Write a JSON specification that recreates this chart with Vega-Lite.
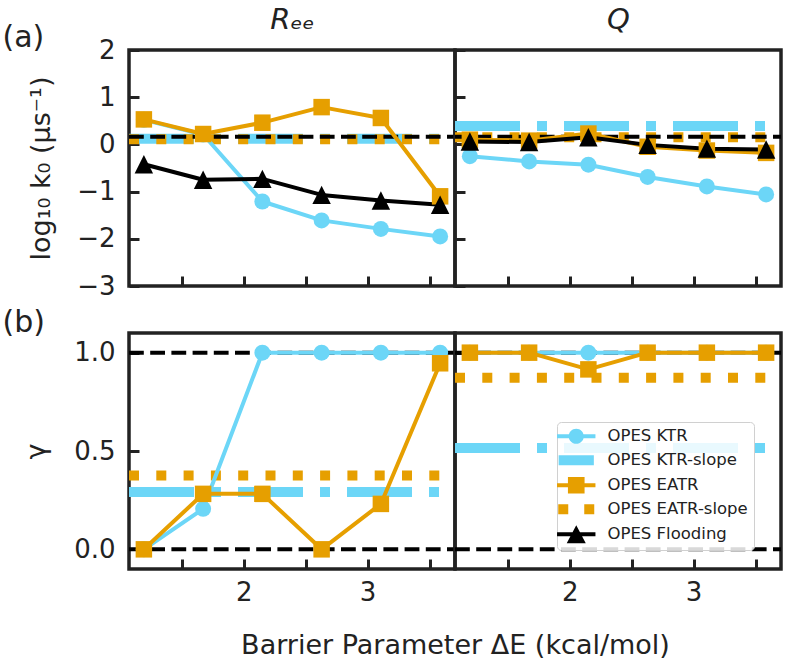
{
  "$schema": "https://vega.github.io/schema/vega-lite/v6.json",
  "padding": {"left": 0, "top": 3, "right": 5, "bottom": 0},
  "config": {
    "font": "DejaVu Sans",
    "background": "white",
    "view": {"stroke": "#222", "strokeWidth": 3.5},
    "axis": {"domain": false, "grid": false, "ticks": true, "tickSize": -10, "tickWidth": 3, "tickColor": "#222", "labelFont": "DejaVu Sans", "labelFontSize": 26, "labelColor": "#222", "titleFont": "DejaVu Sans", "titleFontSize": 27, "titleFontWeight": "normal", "titleColor": "#222"},
    "axisY": {"labelPadding": 24},
    "axisX": {"labelPadding": 20}
  },
  "data": {"values": [
    {"cv": "Ree", "metric": "k", "kind": "pt", "series": "OPES KTR", "dE": 1.195, "value": 0.52},
    {"cv": "Ree", "metric": "k", "kind": "pt", "series": "OPES KTR", "dE": 1.673, "value": 0.21},
    {"cv": "Ree", "metric": "k", "kind": "pt", "series": "OPES KTR", "dE": 2.151, "value": -1.21},
    {"cv": "Ree", "metric": "k", "kind": "pt", "series": "OPES KTR", "dE": 2.629, "value": -1.61},
    {"cv": "Ree", "metric": "k", "kind": "pt", "series": "OPES KTR", "dE": 3.107, "value": -1.79},
    {"cv": "Ree", "metric": "k", "kind": "pt", "series": "OPES KTR", "dE": 3.585, "value": -1.95},
    {"cv": "Ree", "metric": "k", "kind": "pt", "series": "OPES EATR", "dE": 1.195, "value": 0.53},
    {"cv": "Ree", "metric": "k", "kind": "pt", "series": "OPES EATR", "dE": 1.673, "value": 0.22},
    {"cv": "Ree", "metric": "k", "kind": "pt", "series": "OPES EATR", "dE": 2.151, "value": 0.46},
    {"cv": "Ree", "metric": "k", "kind": "pt", "series": "OPES EATR", "dE": 2.629, "value": 0.79},
    {"cv": "Ree", "metric": "k", "kind": "pt", "series": "OPES EATR", "dE": 3.107, "value": 0.56},
    {"cv": "Ree", "metric": "k", "kind": "pt", "series": "OPES EATR", "dE": 3.585, "value": -1.10},
    {"cv": "Ree", "metric": "k", "kind": "pt", "series": "OPES Flooding", "dE": 1.195, "value": -0.42},
    {"cv": "Ree", "metric": "k", "kind": "pt", "series": "OPES Flooding", "dE": 1.673, "value": -0.75},
    {"cv": "Ree", "metric": "k", "kind": "pt", "series": "OPES Flooding", "dE": 2.151, "value": -0.73},
    {"cv": "Ree", "metric": "k", "kind": "pt", "series": "OPES Flooding", "dE": 2.629, "value": -1.07},
    {"cv": "Ree", "metric": "k", "kind": "pt", "series": "OPES Flooding", "dE": 3.107, "value": -1.19},
    {"cv": "Ree", "metric": "k", "kind": "pt", "series": "OPES Flooding", "dE": 3.585, "value": -1.28},
    {"cv": "Ree", "metric": "k", "kind": "slope", "series": "OPES KTR-slope", "value": 0.12},
    {"cv": "Ree", "metric": "k", "kind": "slope", "series": "OPES EATR-slope", "value": 0.11},
    {"cv": "Ree", "metric": "k", "kind": "ref", "value": 0.16},

    {"cv": "Q", "metric": "k", "kind": "pt", "series": "OPES KTR", "dE": 1.195, "value": -0.25},
    {"cv": "Q", "metric": "k", "kind": "pt", "series": "OPES KTR", "dE": 1.673, "value": -0.36},
    {"cv": "Q", "metric": "k", "kind": "pt", "series": "OPES KTR", "dE": 2.151, "value": -0.43},
    {"cv": "Q", "metric": "k", "kind": "pt", "series": "OPES KTR", "dE": 2.629, "value": -0.69},
    {"cv": "Q", "metric": "k", "kind": "pt", "series": "OPES KTR", "dE": 3.107, "value": -0.89},
    {"cv": "Q", "metric": "k", "kind": "pt", "series": "OPES KTR", "dE": 3.585, "value": -1.06},
    {"cv": "Q", "metric": "k", "kind": "pt", "series": "OPES EATR", "dE": 1.195, "value": 0.10},
    {"cv": "Q", "metric": "k", "kind": "pt", "series": "OPES EATR", "dE": 1.673, "value": 0.08},
    {"cv": "Q", "metric": "k", "kind": "pt", "series": "OPES EATR", "dE": 2.151, "value": 0.23},
    {"cv": "Q", "metric": "k", "kind": "pt", "series": "OPES EATR", "dE": 2.629, "value": -0.05},
    {"cv": "Q", "metric": "k", "kind": "pt", "series": "OPES EATR", "dE": 3.107, "value": -0.13},
    {"cv": "Q", "metric": "k", "kind": "pt", "series": "OPES EATR", "dE": 3.585, "value": -0.18},
    {"cv": "Q", "metric": "k", "kind": "pt", "series": "OPES Flooding", "dE": 1.195, "value": 0.06},
    {"cv": "Q", "metric": "k", "kind": "pt", "series": "OPES Flooding", "dE": 1.673, "value": 0.05},
    {"cv": "Q", "metric": "k", "kind": "pt", "series": "OPES Flooding", "dE": 2.151, "value": 0.15},
    {"cv": "Q", "metric": "k", "kind": "pt", "series": "OPES Flooding", "dE": 2.629, "value": -0.01},
    {"cv": "Q", "metric": "k", "kind": "pt", "series": "OPES Flooding", "dE": 3.107, "value": -0.09},
    {"cv": "Q", "metric": "k", "kind": "pt", "series": "OPES Flooding", "dE": 3.585, "value": -0.11},
    {"cv": "Q", "metric": "k", "kind": "slope", "series": "OPES KTR-slope", "value": 0.39},
    {"cv": "Q", "metric": "k", "kind": "slope", "series": "OPES EATR-slope", "value": 0.15},
    {"cv": "Q", "metric": "k", "kind": "ref", "value": 0.16},

    {"cv": "Ree", "metric": "g", "kind": "pt", "series": "OPES KTR", "dE": 1.195, "value": 0},
    {"cv": "Ree", "metric": "g", "kind": "pt", "series": "OPES KTR", "dE": 1.673, "value": 0.206},
    {"cv": "Ree", "metric": "g", "kind": "pt", "series": "OPES KTR", "dE": 2.151, "value": 1},
    {"cv": "Ree", "metric": "g", "kind": "pt", "series": "OPES KTR", "dE": 2.629, "value": 1},
    {"cv": "Ree", "metric": "g", "kind": "pt", "series": "OPES KTR", "dE": 3.107, "value": 1},
    {"cv": "Ree", "metric": "g", "kind": "pt", "series": "OPES KTR", "dE": 3.585, "value": 1},
    {"cv": "Ree", "metric": "g", "kind": "pt", "series": "OPES EATR", "dE": 1.195, "value": 0},
    {"cv": "Ree", "metric": "g", "kind": "pt", "series": "OPES EATR", "dE": 1.673, "value": 0.282},
    {"cv": "Ree", "metric": "g", "kind": "pt", "series": "OPES EATR", "dE": 2.151, "value": 0.282},
    {"cv": "Ree", "metric": "g", "kind": "pt", "series": "OPES EATR", "dE": 2.629, "value": 0},
    {"cv": "Ree", "metric": "g", "kind": "pt", "series": "OPES EATR", "dE": 3.107, "value": 0.231},
    {"cv": "Ree", "metric": "g", "kind": "pt", "series": "OPES EATR", "dE": 3.585, "value": 0.946},
    {"cv": "Ree", "metric": "g", "kind": "slope", "series": "OPES KTR-slope", "value": 0.291},
    {"cv": "Ree", "metric": "g", "kind": "slope", "series": "OPES EATR-slope", "value": 0.376},
    {"cv": "Ree", "metric": "g", "kind": "ref", "value": 0},
    {"cv": "Ree", "metric": "g", "kind": "ref", "value": 1},

    {"cv": "Q", "metric": "g", "kind": "pt", "series": "OPES KTR", "dE": 1.195, "value": 1},
    {"cv": "Q", "metric": "g", "kind": "pt", "series": "OPES KTR", "dE": 1.673, "value": 1},
    {"cv": "Q", "metric": "g", "kind": "pt", "series": "OPES KTR", "dE": 2.151, "value": 1},
    {"cv": "Q", "metric": "g", "kind": "pt", "series": "OPES KTR", "dE": 2.629, "value": 1},
    {"cv": "Q", "metric": "g", "kind": "pt", "series": "OPES KTR", "dE": 3.107, "value": 1},
    {"cv": "Q", "metric": "g", "kind": "pt", "series": "OPES KTR", "dE": 3.585, "value": 1},
    {"cv": "Q", "metric": "g", "kind": "pt", "series": "OPES EATR", "dE": 1.195, "value": 1},
    {"cv": "Q", "metric": "g", "kind": "pt", "series": "OPES EATR", "dE": 1.673, "value": 1},
    {"cv": "Q", "metric": "g", "kind": "pt", "series": "OPES EATR", "dE": 2.151, "value": 0.915},
    {"cv": "Q", "metric": "g", "kind": "pt", "series": "OPES EATR", "dE": 2.629, "value": 1},
    {"cv": "Q", "metric": "g", "kind": "pt", "series": "OPES EATR", "dE": 3.107, "value": 1},
    {"cv": "Q", "metric": "g", "kind": "pt", "series": "OPES EATR", "dE": 3.585, "value": 1},
    {"cv": "Q", "metric": "g", "kind": "slope", "series": "OPES KTR-slope", "value": 0.515},
    {"cv": "Q", "metric": "g", "kind": "slope", "series": "OPES EATR-slope", "value": 0.872},
    {"cv": "Q", "metric": "g", "kind": "ref", "value": 0},
    {"cv": "Q", "metric": "g", "kind": "ref", "value": 1}
  ]},
  "spacing": 4,
  "vconcat": [
    {
      "spacing": 0,
      "bounds": "flush",
      "hconcat": [
        {
          "width": 326, "height": 236,
          "transform": [{"filter": "datum.cv === 'Ree' && datum.metric === 'k'"}],
          "layer": [
            {"transform": [{"filter": "datum.series === 'OPES KTR-slope'"}],
             "mark": {"type": "rule", "strokeWidth": 10, "strokeDash": [65, 17, 10, 17], "strokeDashOffset": 66},
             "encoding": {
               "y": {"field": "value", "type": "quantitative", "scale": {"domain": [-3, 2], "nice": false, "zero": false},
                     "axis": {"values": [-3, -2, -1, 0, 1, 2], "title": "log₁₀ k₀ (μs⁻¹)", "titleX": -88, "titleBaseline": "middle", "titleAngle": -90}},
               "color": {"field": "series", "type": "nominal", "scale": {"domain": ["OPES KTR", "OPES KTR-slope", "OPES EATR", "OPES EATR-slope", "OPES Flooding"], "range": ["#6cd6f7", "#6cd6f7", "#e69f00", "#e69f00", "#000000"]},
                         "legend": {"title": null, "orient": "none", "legendX": 428, "legendY": 372, "padding": 6, "symbolSize": 256, "symbolOffset": 5, "labelOffset": 23, "rowPadding": 7.0, "labelFontSize": 16.5, "labelFont": "DejaVu Sans", "labelColor": "#222", "strokeColor": "#d0d0d0", "fillColor": "rgba(255,255,255,0.85)", "cornerRadius": 4,
                           "encode": {"symbols": {"update": {
                             "shape": {"signal": "datum.value === 'OPES KTR' ? 'M-2.4,-0.25H2.4V0.25H-2.4Z M0.95,0A0.95,0.95,0,1,1,-0.95,0A0.95,0.95,0,1,1,0.95,0Z' : datum.value === 'OPES KTR-slope' ? 'M-2.2,-0.62H2.2V0.62H-2.2Z' : datum.value === 'OPES EATR' ? 'M-2.4,-0.25H2.4V0.25H-2.4Z M-1.04,-1.04H1.04V1.04H-1.04Z' : datum.value === 'OPES EATR-slope' ? 'M-2.25,-0.62H-1.0V0.62H-2.25Z M1.0,-0.62H2.25V0.62H1.0Z' : 'M-2.4,-0.25H2.4V0.25H-2.4Z M0,-1.12L1.19,1.12L-1.19,1.12Z'"},
                             "fill": {"signal": "indexof(['OPES KTR','OPES KTR-slope'], datum.value) >= 0 ? '#6cd6f7' : indexof(['OPES EATR','OPES EATR-slope'], datum.value) >= 0 ? '#e69f00' : '#000000'"},
                             "stroke": {"value": "transparent"},
                             "strokeWidth": {"value": 0},
                             "opacity": {"value": 1},
                             "size": {"value": 256}
                           }}}}}
             }},
            {"transform": [{"filter": "datum.series === 'OPES EATR-slope'"}],
             "mark": {"type": "rule", "strokeWidth": 10, "strokeDash": [10, 17.3], "strokeDashOffset": 11.6},
             "encoding": {"y": {"field": "value", "type": "quantitative", "scale": {"domain": [-3, 2], "nice": false, "zero": false}},
                          "color": {"field": "series", "type": "nominal"}}},
            {"transform": [{"filter": "datum.kind === 'ref'"}],
             "mark": {"type": "rule", "strokeWidth": 4, "strokeDash": [14.8, 6.4], "strokeDashOffset": 6.8, "color": "#000000"},
             "encoding": {"y": {"field": "value", "type": "quantitative", "scale": {"domain": [-3, 2], "nice": false, "zero": false}}}},
            {"transform": [{"filter": "datum.kind === 'pt'"}],
             "mark": {"type": "line", "strokeWidth": 4, "strokeJoin": "round"},
             "encoding": {
               "x": {"field": "dE", "type": "quantitative", "scale": {"domain": [1.075, 3.705], "nice": false, "zero": false},
                     "axis": {"values": [1.5, 2, 2.5, 3, 3.5], "labels": false, "title": "(a)", "titleX": -127, "titleY": -240, "titleAlign": "left", "titleBaseline": "alphabetic", "titleAngle": 0, "titleFontSize": 30}},
               "y": {"field": "value", "type": "quantitative", "scale": {"domain": [-3, 2], "nice": false, "zero": false}},
               "color": {"field": "series", "type": "nominal"}}},
            {"transform": [{"filter": "datum.series === 'OPES KTR' && datum.kind === 'pt'"}],
             "mark": {"type": "point", "filled": true, "opacity": 1, "shape": "circle", "size": 256},
             "encoding": {"x": {"field": "dE", "type": "quantitative"}, "y": {"field": "value", "type": "quantitative"}, "color": {"field": "series", "type": "nominal"}}},
            {"transform": [{"filter": "datum.series === 'OPES EATR' && datum.kind === 'pt'"}],
             "mark": {"type": "point", "filled": true, "opacity": 1, "shape": "square", "size": 272},
             "encoding": {"x": {"field": "dE", "type": "quantitative"}, "y": {"field": "value", "type": "quantitative"}, "color": {"field": "series", "type": "nominal"}}},
            {"transform": [{"filter": "datum.series === 'OPES Flooding' && datum.kind === 'pt'"}],
             "mark": {"type": "point", "filled": true, "opacity": 1, "shape": "M0,-1L1,1L-1,1Z", "size": 340},
             "encoding": {"x": {"field": "dE", "type": "quantitative"}, "y": {"field": "value", "type": "quantitative"}, "color": {"field": "series", "type": "nominal"}}}
          ]
        },
        {
          "width": 326, "height": 236,
          "transform": [{"filter": "datum.cv === 'Q' && datum.metric === 'k'"}],
          "layer": [
            {"transform": [{"filter": "datum.series === 'OPES KTR-slope'"}],
             "mark": {"type": "rule", "strokeWidth": 10, "strokeDash": [65, 17, 10, 17], "strokeDashOffset": 66},
             "encoding": {
               "y": {"field": "value", "type": "quantitative", "scale": {"domain": [-3, 2], "nice": false, "zero": false},
                     "axis": {"values": [-3, -2, -1, 0, 1, 2], "labels": false, "title": "Rₑₑ", "titleX": -163, "titleY": -22, "titleAlign": "center", "titleBaseline": "alphabetic", "titleAngle": 0, "titleFontSize": 29, "titleFontStyle": "italic"}},
               "color": {"field": "series", "type": "nominal"}}},
            {"transform": [{"filter": "datum.series === 'OPES EATR-slope'"}],
             "mark": {"type": "rule", "strokeWidth": 10, "strokeDash": [10, 17.3], "strokeDashOffset": 11.6},
             "encoding": {"y": {"field": "value", "type": "quantitative", "scale": {"domain": [-3, 2], "nice": false, "zero": false}},
                          "color": {"field": "series", "type": "nominal"}}},
            {"transform": [{"filter": "datum.kind === 'ref'"}],
             "mark": {"type": "rule", "strokeWidth": 4, "strokeDash": [14.8, 6.4], "strokeDashOffset": 6.8, "color": "#000000"},
             "encoding": {"y": {"field": "value", "type": "quantitative", "scale": {"domain": [-3, 2], "nice": false, "zero": false}}}},
            {"transform": [{"filter": "datum.kind === 'pt'"}],
             "mark": {"type": "line", "strokeWidth": 4, "strokeJoin": "round"},
             "encoding": {
               "x": {"field": "dE", "type": "quantitative", "scale": {"domain": [1.075, 3.705], "nice": false, "zero": false},
                     "axis": {"values": [1.5, 2, 2.5, 3, 3.5], "labels": false, "title": "Q", "titleX": 163, "titleY": -258, "titleAlign": "center", "titleBaseline": "alphabetic", "titleAngle": 0, "titleFontSize": 29, "titleFontStyle": "italic"}},
               "y": {"field": "value", "type": "quantitative", "scale": {"domain": [-3, 2], "nice": false, "zero": false}},
               "color": {"field": "series", "type": "nominal"}}},
            {"transform": [{"filter": "datum.series === 'OPES KTR' && datum.kind === 'pt'"}],
             "mark": {"type": "point", "filled": true, "opacity": 1, "shape": "circle", "size": 256},
             "encoding": {"x": {"field": "dE", "type": "quantitative"}, "y": {"field": "value", "type": "quantitative"}, "color": {"field": "series", "type": "nominal"}}},
            {"transform": [{"filter": "datum.series === 'OPES EATR' && datum.kind === 'pt'"}],
             "mark": {"type": "point", "filled": true, "opacity": 1, "shape": "square", "size": 272},
             "encoding": {"x": {"field": "dE", "type": "quantitative"}, "y": {"field": "value", "type": "quantitative"}, "color": {"field": "series", "type": "nominal"}}},
            {"transform": [{"filter": "datum.series === 'OPES Flooding' && datum.kind === 'pt'"}],
             "mark": {"type": "point", "filled": true, "opacity": 1, "shape": "M0,-1L1,1L-1,1Z", "size": 340},
             "encoding": {"x": {"field": "dE", "type": "quantitative"}, "y": {"field": "value", "type": "quantitative"}, "color": {"field": "series", "type": "nominal"}}}
          ]
        }
      ]
    },
    {
      "spacing": 0,
      "bounds": "flush",
      "hconcat": [
        {
          "width": 326, "height": 236,
          "transform": [{"filter": "datum.cv === 'Ree' && datum.metric === 'g'"}],
          "layer": [
            {"transform": [{"filter": "datum.series === 'OPES KTR-slope'"}],
             "mark": {"type": "rule", "strokeWidth": 10, "strokeDash": [65, 17, 10, 17], "strokeDashOffset": 66},
             "encoding": {
               "y": {"field": "value", "type": "quantitative", "scale": {"domain": [-0.1, 1.1], "nice": false, "zero": false},
                     "axis": {"values": [0, 0.5, 1], "format": ".1f", "title": "γ", "titleX": -93, "titleBaseline": "middle", "titleAngle": -90}},
               "color": {"field": "series", "type": "nominal"}}},
            {"transform": [{"filter": "datum.series === 'OPES EATR-slope'"}],
             "mark": {"type": "rule", "strokeWidth": 10, "strokeDash": [10, 17.3], "strokeDashOffset": 11.6},
             "encoding": {"y": {"field": "value", "type": "quantitative", "scale": {"domain": [-0.1, 1.1], "nice": false, "zero": false}},
                          "color": {"field": "series", "type": "nominal"}}},
            {"transform": [{"filter": "datum.kind === 'ref'"}],
             "mark": {"type": "rule", "strokeWidth": 4, "strokeDash": [14.8, 6.4], "strokeDashOffset": 6.8, "color": "#000000"},
             "encoding": {"y": {"field": "value", "type": "quantitative", "scale": {"domain": [-0.1, 1.1], "nice": false, "zero": false}}}},
            {"transform": [{"filter": "datum.kind === 'pt'"}],
             "mark": {"type": "line", "strokeWidth": 4, "strokeJoin": "round"},
             "encoding": {
               "x": {"field": "dE", "type": "quantitative", "scale": {"domain": [1.075, 3.705], "nice": false, "zero": false},
                     "axis": {"values": [1.5, 2, 2.5, 3, 3.5], "labelExpr": "datum.value % 1 === 0 ? format(datum.value, 'd') : ''", "title": "Barrier Parameter ΔE (kcal/mol)", "titleX": 326, "titleY": 84, "titleAlign": "center", "titleBaseline": "alphabetic"}},
               "y": {"field": "value", "type": "quantitative", "scale": {"domain": [-0.1, 1.1], "nice": false, "zero": false}},
               "color": {"field": "series", "type": "nominal"}}},
            {"transform": [{"filter": "datum.series === 'OPES KTR' && datum.kind === 'pt'"}],
             "mark": {"type": "point", "filled": true, "opacity": 1, "shape": "circle", "size": 256},
             "encoding": {"x": {"field": "dE", "type": "quantitative"}, "y": {"field": "value", "type": "quantitative"}, "color": {"field": "series", "type": "nominal"}}},
            {"transform": [{"filter": "datum.series === 'OPES EATR' && datum.kind === 'pt'"}],
             "mark": {"type": "point", "filled": true, "opacity": 1, "shape": "square", "size": 272},
             "encoding": {"x": {"field": "dE", "type": "quantitative"}, "y": {"field": "value", "type": "quantitative"}, "color": {"field": "series", "type": "nominal"}}}
          ]
        },
        {
          "width": 326, "height": 236,
          "transform": [{"filter": "datum.cv === 'Q' && datum.metric === 'g'"}],
          "layer": [
            {"transform": [{"filter": "datum.series === 'OPES KTR-slope'"}],
             "mark": {"type": "rule", "strokeWidth": 10, "strokeDash": [65, 17, 10, 17], "strokeDashOffset": 66},
             "encoding": {
               "y": {"field": "value", "type": "quantitative", "scale": {"domain": [-0.1, 1.1], "nice": false, "zero": false},
                     "axis": {"values": [0, 0.5, 1], "labels": false, "title": null}},
               "color": {"field": "series", "type": "nominal"}}},
            {"transform": [{"filter": "datum.series === 'OPES EATR-slope'"}],
             "mark": {"type": "rule", "strokeWidth": 10, "strokeDash": [10, 17.3], "strokeDashOffset": 11.6},
             "encoding": {"y": {"field": "value", "type": "quantitative", "scale": {"domain": [-0.1, 1.1], "nice": false, "zero": false}},
                          "color": {"field": "series", "type": "nominal"}}},
            {"transform": [{"filter": "datum.kind === 'ref'"}],
             "mark": {"type": "rule", "strokeWidth": 4, "strokeDash": [14.8, 6.4], "strokeDashOffset": 6.8, "color": "#000000"},
             "encoding": {"y": {"field": "value", "type": "quantitative", "scale": {"domain": [-0.1, 1.1], "nice": false, "zero": false}}}},
            {"transform": [{"filter": "datum.kind === 'pt'"}],
             "mark": {"type": "line", "strokeWidth": 4, "strokeJoin": "round"},
             "encoding": {
               "x": {"field": "dE", "type": "quantitative", "scale": {"domain": [1.075, 3.705], "nice": false, "zero": false},
                     "axis": {"values": [1.5, 2, 2.5, 3, 3.5], "labelExpr": "datum.value % 1 === 0 ? format(datum.value, 'd') : ''", "title": "(b)", "titleX": -453, "titleY": -238, "titleAlign": "left", "titleBaseline": "alphabetic", "titleAngle": 0, "titleFontSize": 30}},
               "y": {"field": "value", "type": "quantitative", "scale": {"domain": [-0.1, 1.1], "nice": false, "zero": false}},
               "color": {"field": "series", "type": "nominal"}}},
            {"transform": [{"filter": "datum.series === 'OPES KTR' && datum.kind === 'pt'"}],
             "mark": {"type": "point", "filled": true, "opacity": 1, "shape": "circle", "size": 256},
             "encoding": {"x": {"field": "dE", "type": "quantitative"}, "y": {"field": "value", "type": "quantitative"}, "color": {"field": "series", "type": "nominal"}}},
            {"transform": [{"filter": "datum.series === 'OPES EATR' && datum.kind === 'pt'"}],
             "mark": {"type": "point", "filled": true, "opacity": 1, "shape": "square", "size": 272},
             "encoding": {"x": {"field": "dE", "type": "quantitative"}, "y": {"field": "value", "type": "quantitative"}, "color": {"field": "series", "type": "nominal"}}}
          ]
        }
      ]
    }
  ]
}
